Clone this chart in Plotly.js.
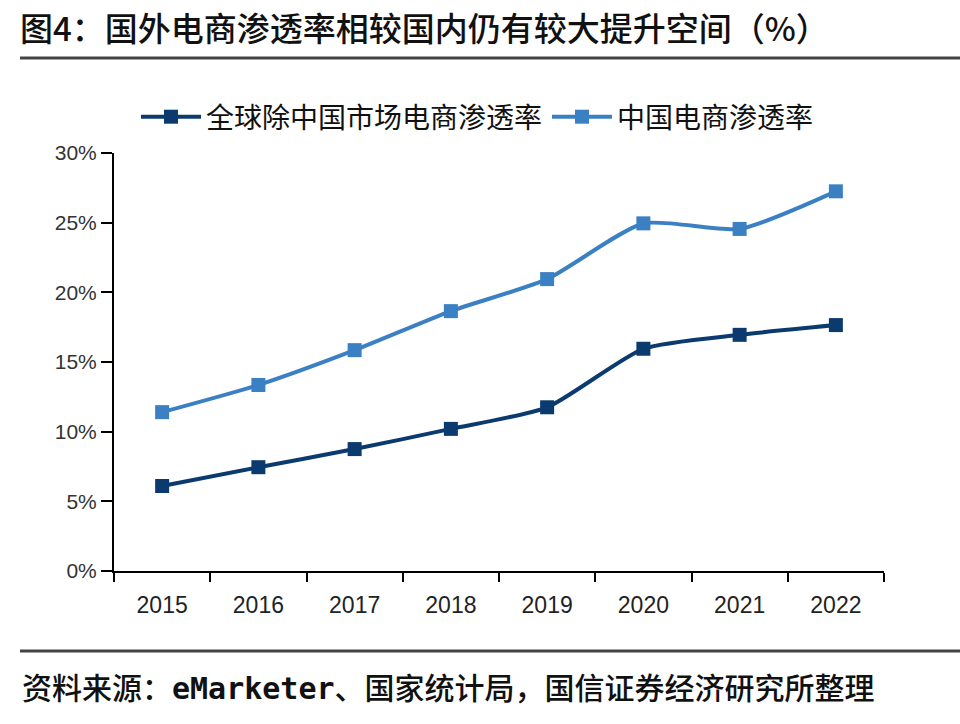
<!DOCTYPE html>
<html>
<head>
<meta charset="utf-8">
<script src="https://cdn.plot.ly/plotly-3.0.1.min.js"></script>
<style>html,body{margin:0;padding:0;background:#fff;}#chart{width:960px;height:724px;}</style>
</head>
<body>
<div id="chart"></div>
<script>
const years = ['2015','2016','2017','2018','2019','2020','2021','2022'];
const globalExChina = [6.1, 7.45, 8.75, 10.2, 11.75, 15.95, 16.95, 17.65];
const china = [11.4, 13.35, 15.85, 18.65, 20.95, 24.95, 24.55, 27.25];
const yTickVals = [0, 5, 10, 15, 20, 25, 30];
const yTickText = ['0%', '5%', '10%', '15%', '20%', '25%', '30%'];
const seriesNames = ['全球除中国市场电商渗透率', '中国电商渗透率'];

const font = 'Noto Sans CJK SC, Noto Sans, sans-serif';
const numFont = 'Liberation Sans, Arial, sans-serif';
const data = [
  {x: years, y: globalExChina, name: seriesNames[0], type: 'scatter', mode: 'lines+markers',
   line: {color: '#0b3a6f', width: 4, shape: 'spline', smoothing: 0.6},
   marker: {symbol: 'square', size: 14, color: '#0b3a6f'}},
  {x: years, y: china, name: seriesNames[1], type: 'scatter', mode: 'lines+markers',
   line: {color: '#3a80c3', width: 4, shape: 'spline', smoothing: 0.6},
   marker: {symbol: 'square', size: 14, color: '#3a80c3'}}
];
const layout = {
  width: 960, height: 724,
  margin: {l: 114, r: 76, t: 153, b: 153},
  paper_bgcolor: '#fff', plot_bgcolor: '#fff',
  font: {family: font, color: '#222'},
  title: {text: '图4：国外电商渗透率相较国内仍有较大提升空间（%）', xref: 'container', yref: 'container',
          x: 20/960, xanchor: 'left', y: 1 - 29/724, yanchor: 'middle',
          font: {family: font, size: 33, weight: 500, color: '#111'}},
  showlegend: true,
  legend: {orientation: 'h', x: (136-114)/770, xanchor: 'left', y: 1 + (153-117)/418, yanchor: 'middle',
           font: {family: font, size: 28, color: '#111'}, itemwidth: 60, tracegroupgap: 0},
  xaxis: {type: 'category', range: [-0.5, 7.5], tickson: 'boundaries', ticks: 'outside', ticklen: 9,
          tickwidth: 2, tickcolor: '#000', showline: true, linecolor: '#000', linewidth: 2,
          showgrid: false, zeroline: false, fixedrange: true, ticklabelstandoff: 12,
          tickfont: {family: numFont, size: 23, color: '#222'}},
  yaxis: {range: [0, 30], tickvals: yTickVals, ticktext: yTickText, ticks: 'outside', ticklen: 11,
          tickwidth: 2, tickcolor: '#000', showline: true, linecolor: '#000', linewidth: 2,
          showgrid: false, zeroline: false, fixedrange: true,
          tickfont: {family: numFont, size: 21, color: '#333'}},
  shapes: [
    {type: 'line', xref: 'paper', yref: 'paper', x0: (20-114)/770, x1: (960-114)/770,
     y0: (571-58)/418, y1: (571-58)/418, line: {color: '#444', width: 3}},
    {type: 'line', xref: 'paper', yref: 'paper', x0: (20-114)/770, x1: (960-114)/770,
     y0: -(651-571)/418, y1: -(651-571)/418, line: {color: '#444', width: 3}}
  ],
  annotations: [
    {text: '资料来源：<span style="font-family:DejaVu Sans Mono, Liberation Mono, monospace;font-weight:bold">eMarketer</span>、国家统计局，国信证券经济研究所整理',
     xref: 'paper', yref: 'paper',
     x: (20-114)/770, xanchor: 'left', y: -(686-571)/418, yanchor: 'middle', showarrow: false,
     font: {family: font, size: 30, weight: 500, color: '#111'}}
  ]
};
Plotly.newPlot('chart', data, layout, {displayModeBar: false, staticPlot: true});
</script>
</body>
</html>
